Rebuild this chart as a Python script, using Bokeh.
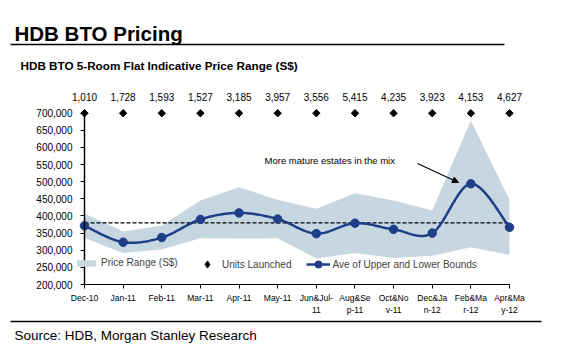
import numpy as np
from bokeh.plotting import figure
from bokeh.models import (Range1d, FixedTicker, NumeralTickFormatter, Legend,
                          LegendItem, Label, LabelSet, Arrow, NormalHead, ColumnDataSource)
from bokeh.core.properties import value
from bokeh.embed import file_html
from bokeh.resources import INLINE

# ---------------- data ----------------
categories = ["Dec-10", "Jan-11", "Feb-11", "Mar-11", "Apr-11", "May-11",
              "Jun&Jul-\n11", "Aug&Se\np-11", "Oct&No\nv-11", "Dec&Ja\nn-12",
              "Feb&Ma\nr-12", "Apr&Ma\ny-12"]
upper_bound = [407000, 355000, 372000, 445000, 484000, 447000,
               421000, 466000, 445000, 416000, 679000, 447000]
lower_bound = [336000, 292000, 302000, 335000, 334000, 335000,
               276000, 292000, 277000, 284000, 309000, 287000]
units_launched = [1010, 1728, 1593, 1527, 3185, 3957, 3556, 5415, 4235, 3923, 4153, 4627]
reference_level = 380000
y_ticks = [200000, 250000, 300000, 350000, 400000, 450000, 500000, 550000, 600000, 650000, 700000]

FONT = "Liberation Sans"
NARROW = "'Liberation Sans Narrow', 'Liberation Sans', Arial, sans-serif"
BAND = "#C6D7E2"
NAVY = "#1F3E88"

# ---------------- layout geometry (page px) ----------------
W, H = 561, 345
AX_LEFT, AX_RIGHT = 84.0, 509.0        # x px of first / last category
AX_BOTTOM, AX_TOP = 284.0, 112.7       # y px of 200,000 / 700,000
n = len(categories)
ppu_x = (AX_RIGHT - AX_LEFT) / (n - 1)
ppu_y = (AX_BOTTOM - AX_TOP) / (y_ticks[-1] - y_ticks[0])
x_lo = 0 - AX_LEFT / ppu_x
x_hi = (n - 1) + (W - AX_RIGHT) / ppu_x
y_lo = y_ticks[0] - (H - AX_BOTTOM) / ppu_y
y_hi = y_ticks[-1] + AX_TOP / ppu_y

idx = np.arange(n, dtype=float)
upper = np.array(upper_bound, dtype=float)
lower = np.array(lower_bound, dtype=float)
avg = (upper + lower) / 2.0

# Excel-like smoothed line (Bezier with 1/6 control points)
def smooth(xs, ys, k=30):
    px = np.concatenate([[xs[0]], xs, [xs[-1]]])
    py = np.concatenate([[ys[0]], ys, [ys[-1]]])
    ox, oy = [], []
    for i in range(1, len(px) - 2):
        p0x, p1x, p2x, p3x = px[i - 1], px[i], px[i + 1], px[i + 2]
        p0y, p1y, p2y, p3y = py[i - 1], py[i], py[i + 1], py[i + 2]
        c1x, c1y = p1x + (p2x - p0x) / 6, p1y + (p2y - p0y) / 6
        c2x, c2y = p2x - (p3x - p1x) / 6, p2y - (p3y - p1y) / 6
        t = np.linspace(0, 1, k, endpoint=(i == len(px) - 3))
        b0, b1, b2, b3 = (1 - t) ** 3, 3 * (1 - t) ** 2 * t, 3 * (1 - t) * t ** 2, t ** 3
        ox.extend(b0 * p1x + b1 * c1x + b2 * c2x + b3 * p2x)
        oy.extend(b0 * p1y + b1 * c1y + b2 * c2y + b3 * p2y)
    return ox, oy

sx, sy = smooth(idx, avg)

p = figure(width=W, height=H, x_range=Range1d(x_lo, x_hi), y_range=Range1d(y_lo, y_hi),
           output_backend="svg", toolbar_location=None, min_border=0)
p.grid.visible = False
p.outline_line_color = None
p.background_fill_color = "white"
p.border_fill_color = "white"

band = p.varea(x=idx, y1=lower, y2=upper, fill_color=BAND)
p.segment(x0=[idx[0]], y0=[reference_level], x1=[idx[-1]], y1=[reference_level],
          line_color="black", line_width=1.2, line_dash="4 2")
line = p.line(sx, sy, line_color=NAVY, line_width=2.5)
dots = p.scatter(idx, avg, size=8.5, marker="circle", fill_color=NAVY, line_color=NAVY)

# y axis rule (value axis spans the tick range)
p.segment(x0=[idx[0]], y0=[y_ticks[0]], x1=[idx[0]], y1=[y_ticks[-1]],
          line_color="black", line_width=1.3)

units_y = [y_ticks[-1]] * n
p.scatter(idx, units_y, marker="square", angle=np.pi / 4, size=5.2,
          fill_color="black", line_color="black")
# legend swatch for the units series (drawn only in the legend)
diam_key = p.scatter(idx, units_y, marker="diamond", size=8, fill_color="black",
                     line_color="black", visible=False)
src = ColumnDataSource(dict(x=idx, y=units_y, t=[f"{u:,}" for u in units_launched]))
p.add_layout(LabelSet(x="x", y="y", text="t", source=src, y_offset=16,
                      text_font=value(FONT), text_font_size="10px", text_align="center",
                      text_baseline="middle", text_color="black"))

p.add_layout(Label(x=4.66, y=562000, text="More mature estates in the mix",
                   text_font=FONT, text_font_size="9.5px", text_baseline="middle",
                   text_color="black"))
p.add_layout(Arrow(end=NormalHead(size=6, fill_color="black", line_color="black"),
                   x_start=8.62, y_start=553000, x_end=9.68, y_end=498000,
                   line_color="black", line_width=1.1))

# axes (fixed inside the full-page frame)
ya = p.yaxis[0]
ya.fixed_location = idx[0]
ya.ticker = FixedTicker(ticks=y_ticks)
ya.formatter = NumeralTickFormatter(format="0,0")
ya.bounds = (y_ticks[0], y_ticks[-1])
ya.major_tick_out = 4
ya.major_tick_in = 0
ya.minor_tick_line_color = None
ya.major_label_standoff = 8
ya.major_label_text_font = FONT
ya.major_label_text_font_size = "10px"
ya.major_label_text_color = "black"
ya.axis_line_color = "black"
ya.axis_line_width = 1.2

xa = p.xaxis[0]
xa.fixed_location = y_ticks[0]
xa.ticker = FixedTicker(ticks=list(idx))
xa.bounds = (idx[0], idx[-1])
xa.major_label_overrides = {float(i): c for i, c in zip(idx, categories)}
xa.major_label_overrides.update({int(i): c for i, c in zip(idx, categories)})
xa.major_tick_out = 4
xa.major_tick_in = 0
xa.minor_tick_line_color = None
xa.major_label_standoff = 4
xa.major_label_text_font = NARROW
xa.major_label_text_font_size = "8.5px"
xa.major_label_text_color = "black"
xa.axis_line_color = "black"
xa.axis_line_width = 1.2

# legends (screen px from the bottom-left of the page)
leg_a = Legend(items=[LegendItem(label="Price Range (S$)", renderers=[band])],
               location=(74, H - 268), orientation="horizontal", glyph_width=24, glyph_height=8,
               label_height=8, label_standoff=3, padding=0, margin=0, spacing=14,
               border_line_alpha=0, background_fill_alpha=0,
               label_text_font=FONT, label_text_font_size="10px")
leg_b = Legend(items=[LegendItem(label="Units Launched", renderers=[diam_key]),
                      LegendItem(label="Ave of Upper and Lower Bounds", renderers=[line, dots])],
               location=(195, H - 273), orientation="horizontal", glyph_width=24, glyph_height=18,
               label_height=18, label_standoff=3, padding=0, margin=0, spacing=14,
               border_line_alpha=0, background_fill_alpha=0, inactive_fill_alpha=0,
               label_text_font=FONT, label_text_font_size="10px")
p.add_layout(leg_a)
p.add_layout(leg_b)

# header / footer (page decorations, screen px)
def sc(ay):
    return H - ay

p.add_layout(Label(x=14, y=sc(33), x_units="screen", y_units="screen",
                   text="HDB BTO Pricing", text_font=FONT, text_font_style="bold",
                   text_font_size="20.5px", text_baseline="alphabetic", text_color="black"))
p.add_layout(Label(x=20, y=sc(64.5), x_units="screen", y_units="screen",
                   text="HDB BTO 5-Room Flat Indicative Price Range (S$)", text_font=FONT,
                   text_font_style="bold", text_font_size="11.7px",
                   text_baseline="alphabetic", text_color="black"))
p.add_layout(Label(x=14, y=sc(335), x_units="screen", y_units="screen",
                   text="Source: HDB, Morgan Stanley Research", text_font=FONT,
                   text_font_size="13.5px", text_baseline="alphabetic", text_color="black"))
p.add_layout(Arrow(end=None, x_start=10, y_start=sc(44), x_end=504, y_end=sc(44),
                   start_units="screen", end_units="screen", line_color="black", line_width=1.5))
p.add_layout(Arrow(end=None, x_start=10, y_start=sc(321), x_end=541, y_end=sc(321),
                   start_units="screen", end_units="screen", line_color="black", line_width=1.3))

open("out.html", "w").write(file_html(p, INLINE))
